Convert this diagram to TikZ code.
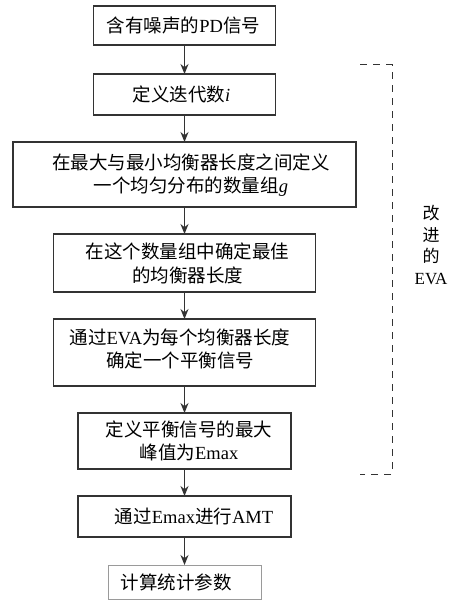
\documentclass[tikz,border=0pt]{standalone}
\usepackage{fontspec}
\setmainfont{Liberation Serif}
\newfontfamily\cjk{Noto Sans CJK SC}
\usetikzlibrary{arrows.meta}
\newcommand\zh[1]{{\cjk #1}}
\definecolor{edge}{HTML}{333333}
\definecolor{lightedge}{HTML}{9A9A9A}
\begin{document}
\begin{tikzpicture}[x=1pt,y=-1pt,
  box/.style={draw=edge,line width=1.2pt,inner sep=0pt,outer sep=0pt},
  txt/.style={inner sep=0pt,align=center,font=\fontsize{18.5}{23.5}\selectfont,text=black},
  arr/.style={draw=edge,line width=1.2pt,-{Stealth[length=10pt,width=8pt]}},
  bracket/.style={draw=edge,line width=1pt,dash pattern=on 7pt off 6pt}]
\useasboundingbox[fill=white] (0,0) rectangle (458,602);
% boxes
\node[box,minimum width=182pt,minimum height=39pt] (b1) at (184.5,25.5) {};
\node[box,minimum width=182pt,minimum height=41pt] (b2) at (184.5,94.5) {};
\node[box,minimum width=343pt,minimum height=65pt] (b3) at (184.5,174.5) {};
\node[box,minimum width=262pt,minimum height=58pt] (b4) at (184.5,263) {};
\node[box,minimum width=262pt,minimum height=67pt] (b5) at (184.5,352.5) {};
\node[box,minimum width=213pt,minimum height=56pt] (b6) at (184.5,441) {};
\node[box,minimum width=213pt,minimum height=41pt] (b7) at (184.5,516.5) {};
\node[box,draw=lightedge,line width=1pt,minimum width=153pt,minimum height=34pt] (b8) at (184.5,582) {};
% texts
\node[txt] (b1t) at (183.5,25.5) {\zh{含有噪声的}PD\zh{信号}};
\node[txt] (b2t) at (181.5,94.5) {\zh{定义迭代数}\textit{i}};
\node[txt] (b3t) at (191,175) {\zh{在最大与最小均衡器长度之间定义}\\\zh{一个均匀分布的数量组}\textit{g}};
\node[txt] (b4t) at (187.5,263.5) {\zh{在这个数量组中确定最佳}\\\zh{的均衡器长度}};
\node[txt] (b5t) at (180,349) {\zh{通过}EVA\zh{为每个均衡器长度}\\\zh{确定一个平衡信号}};
\node[txt] (b6t) at (189,441) {\zh{定义平衡信号的最大}\\\zh{峰值为}Emax};
\node[txt] (b7t) at (194,516) {\zh{通过}Emax\zh{进行}AMT};
\node[txt] (b8t) at (176,582) {\zh{计算统计参数}};
% arrows
\draw[arr] (b1) -- (b2);
\draw[arr] (b2) -- (b3);
\draw[arr] (b3) -- (b4);
\draw[arr] (b4) -- (b5);
\draw[arr] (b5) -- (b6);
\draw[arr] (b6) -- (b7);
\draw[arr] (b7) -- (b8);
% bracket
\coordinate (t1) at (360,65);
\coordinate (t2) at (392,65);
\coordinate (t3) at (392,474);
\coordinate (t4) at (360,474);
\draw[bracket] (t1) -- (t2) -- (t3) -- (t4);
\node[align=center,inner sep=0pt,font=\fontsize{17}{21.5}\selectfont] (lab) at (431,245) {\zh{改}\\\zh{进}\\\zh{的}\\EVA};
\end{tikzpicture}
\end{document}
